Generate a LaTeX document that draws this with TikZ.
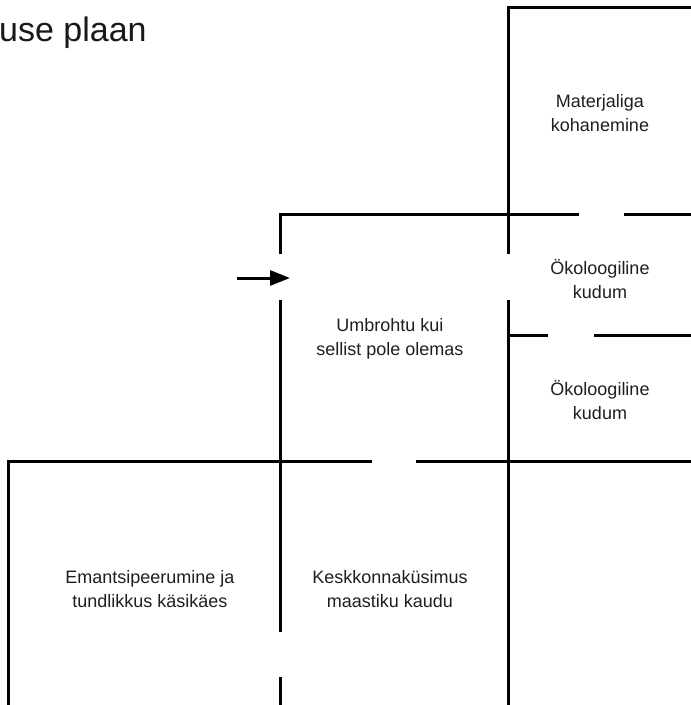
\documentclass[tikz,border=0pt]{standalone}
\usepackage{fontspec}
\setmainfont{Liberation Sans}
\usetikzlibrary{arrows.meta}
\begin{document}
\begin{tikzpicture}[x=1pt,y=-1pt,
  wall/.style={line width=3pt,black,line cap=butt,line join=miter},
  lbl/.style={align=center,font=\fontsize{18}{24}\selectfont,text=black!88,inner sep=0pt},
  ttl/.style={font=\fontsize{34}{40}\selectfont,text=black!90,inner sep=0pt,anchor=base west}]
\useasboundingbox[fill=white] (0,0) rectangle (691,705);
% walls
\draw[wall] (508,705) -- (508,300);
\draw[wall] (508,254) -- (508,7) -- (692,7);
\draw[wall] (280,254) -- (280,214) -- (579,214);
\draw[wall] (624,214) -- (692,214);
\draw[wall] (280,300) -- (280,632);
\draw[wall] (280,677) -- (280,706);
\draw[wall] (8,706) -- (8,461) -- (372,461);
\draw[wall] (416,461) -- (692,461);
\draw[wall] (508,335) -- (548,335);
\draw[wall] (594,335) -- (692,335);
% entrance arrow
\coordinate (arrS) at (237,278);
\coordinate (arrE) at (290,278);
\draw[line width=3pt,-{Triangle[length=20pt,width=15pt]}] (arrS) -- (arrE);
% title
\node[ttl] (title) at (-1,41) {use plaan};
% labels
\node[lbl] (mat) at (600,113) {Materjaliga\\kohanemine};
\node[lbl] (oko1) at (600,279) {Ökoloogiline\\kudum};
\node[lbl] (oko2) at (600,400) {Ökoloogiline\\kudum};
\node[lbl] (umb) at (390,339) {Umbrohtu kui\\sellist pole olemas};
\node[lbl] (ema) at (150,589) {Emantsipeerumine ja\\tundlikkus käsikäes};
\node[lbl] (kes) at (390,589) {Keskkonnaküsimus\\maastiku kaudu};
\end{tikzpicture}
\end{document}
